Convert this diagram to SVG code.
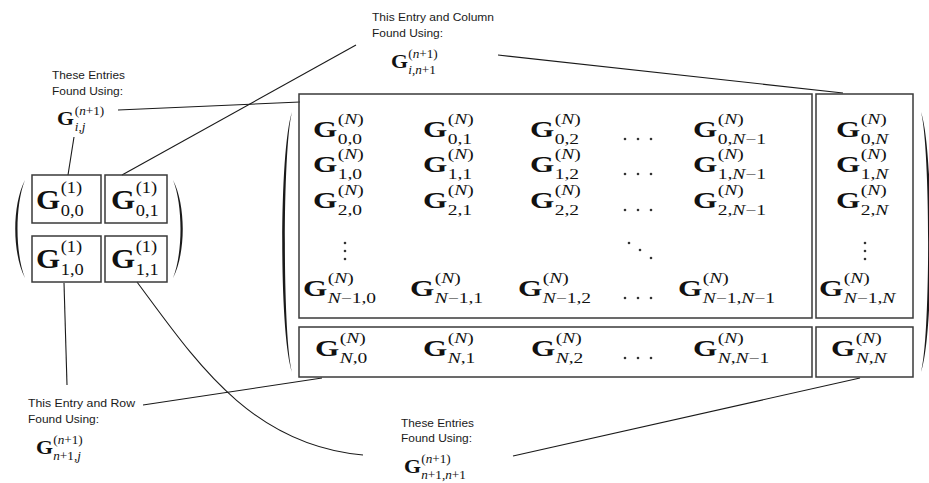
<svg xmlns="http://www.w3.org/2000/svg" width="929" height="483" viewBox="0 0 929 483">
<style>
.lbl{font-family:"Liberation Sans",Arial,sans-serif;font-size:11px;fill:#1a1a1a}
.mb{font-family:"Liberation Serif","Times New Roman",serif;font-weight:bold;fill:#111}
.ms{font-family:"Liberation Serif","Times New Roman",serif;fill:#111}
.it{font-style:italic}
.gB{font-size:24px}.sB{font-size:15px}
.gS{font-size:27px}.sS{font-size:16px}
.gL{font-size:19px}.sL{font-size:11.5px}
.box{fill:none;stroke:#3a3a3a;stroke-width:1.5}
.conn{fill:none;stroke:#1a1a1a;stroke-width:1.1}
.paren{fill:#1a1a1a}
.dot{fill:#333}
</style>
<rect width="929" height="483" fill="#fff"/>

<g id="connectors">
<line class="conn" x1="118" y1="110" x2="300" y2="102"/>
<line class="conn" x1="74" y1="137" x2="68" y2="175"/>
<line class="conn" x1="122" y1="175" x2="356" y2="45"/>
<line class="conn" x1="498" y1="55" x2="843" y2="93"/>
<line class="conn" x1="64" y1="283" x2="67" y2="385"/>
<path class="conn" d="M137,282 C195,360 250,445 363,455"/>
<line class="conn" x1="143" y1="405" x2="322" y2="378"/>
<line class="conn" x1="513" y1="456" x2="860" y2="378"/>
</g>

<g id="label-top">
<text class="lbl" x="372" y="21" textLength="122" lengthAdjust="spacingAndGlyphs">This Entry and Column</text>
<text class="lbl" x="372" y="37" textLength="71" lengthAdjust="spacingAndGlyphs">Found Using:</text>
<g transform="translate(391,68) scale(1.15,1)"><text class="mb gL">G</text><text class="ms sL" x="15" y="-10">(<tspan class="it">n</tspan>+1)</text><text class="ms sL" x="15" y="6"><tspan class="it">i</tspan>,<tspan class="it">n</tspan>+1</text></g>
</g>

<g id="label-left">
<text class="lbl" x="52" y="79" textLength="73" lengthAdjust="spacingAndGlyphs">These Entries</text>
<text class="lbl" x="52" y="95" textLength="71" lengthAdjust="spacingAndGlyphs">Found Using:</text>
<g transform="translate(57,125) scale(1.15,1)"><text class="mb gL">G</text><text class="ms sL" x="15.5" y="-10">(<tspan class="it">n</tspan>+1)</text><text class="ms sL" x="15.5" y="6"><tspan class="it">i</tspan>,<tspan class="it">j</tspan></text></g>
</g>

<g id="label-bottom-left">
<text class="lbl" x="28" y="407" textLength="107" lengthAdjust="spacingAndGlyphs">This Entry and Row</text>
<text class="lbl" x="28" y="423" textLength="71" lengthAdjust="spacingAndGlyphs">Found Using:</text>
<g transform="translate(36,454) scale(1.15,1)"><text class="mb gL">G</text><text class="ms sL" x="15" y="-10">(<tspan class="it">n</tspan>+1)</text><text class="ms sL" x="15" y="6"><tspan class="it">n</tspan>+1,<tspan class="it">j</tspan></text></g>
</g>

<g id="label-bottom-mid">
<text class="lbl" x="401" y="427" textLength="73" lengthAdjust="spacingAndGlyphs">These Entries</text>
<text class="lbl" x="401" y="442" textLength="71" lengthAdjust="spacingAndGlyphs">Found Using:</text>
<g transform="translate(404,473) scale(1.15,1)"><text class="mb gL">G</text><text class="ms sL" x="15" y="-10">(<tspan class="it">n</tspan>+1)</text><text class="ms sL" x="15" y="6"><tspan class="it">n</tspan>+1,<tspan class="it">n</tspan>+1</text></g>
</g>

<g id="small-matrix">
<path class="paren" d="M25,180 C12,205 12,253 25,278 C15,253 15,205 25,180 Z"/>
<path class="paren" d="M173,180 C186,205 186,253 173,278 C183,253 183,205 173,180 Z"/>
<g id="s00"><rect class="box" x="32" y="175" width="69" height="48"/>
<g transform="translate(36,209) scale(1.15,1)"><text class="mb gS">G</text><text class="ms sS" x="21.5" y="-16">(1)</text><text class="ms sS" x="21.5" y="7">0,0</text></g></g>
<g id="s01"><rect class="box" x="105" y="175" width="62" height="48"/>
<g transform="translate(111,209) scale(1.15,1)"><text class="mb gS">G</text><text class="ms sS" x="21.5" y="-16">(1)</text><text class="ms sS" x="21.5" y="7">0,1</text></g></g>
<g id="s10"><rect class="box" x="32" y="236" width="69" height="46"/>
<g transform="translate(36,268) scale(1.15,1)"><text class="mb gS">G</text><text class="ms sS" x="21.5" y="-16">(1)</text><text class="ms sS" x="21.5" y="7">1,0</text></g></g>
<g id="s11"><rect class="box" x="105" y="236" width="62" height="46"/>
<g transform="translate(111,268) scale(1.15,1)"><text class="mb gS">G</text><text class="ms sS" x="21.5" y="-16">(1)</text><text class="ms sS" x="21.5" y="7">1,1</text></g></g>
</g>

<g id="big-matrix">
<path class="paren" d="M292,112 C279,150 279,335 292,372 C282.5,335 282.5,150 292,112 Z"/>
<path class="paren" d="M921,112 C934,150 934,335 921,372 C930.5,335 930.5,150 921,112 Z"/>

<g id="block-main"><rect class="box" x="299" y="94" width="513" height="224"/>
<g transform="translate(313,137) scale(1.3,1)"><text class="mb gB">G</text><text class="ms sB" x="19" y="-13.5">(<tspan class="it">N</tspan>)</text><text class="ms sB" x="19" y="6.5">0,0</text></g>
<g transform="translate(423,137) scale(1.3,1)"><text class="mb gB">G</text><text class="ms sB" x="19" y="-13.5">(<tspan class="it">N</tspan>)</text><text class="ms sB" x="19" y="6.5">0,1</text></g>
<g transform="translate(530,137) scale(1.3,1)"><text class="mb gB">G</text><text class="ms sB" x="19" y="-13.5">(<tspan class="it">N</tspan>)</text><text class="ms sB" x="19" y="6.5">0,2</text></g>
<g transform="translate(693,137) scale(1.3,1)"><text class="mb gB">G</text><text class="ms sB" x="19" y="-13.5">(<tspan class="it">N</tspan>)</text><text class="ms sB" x="19" y="6.5">0,<tspan class="it">N</tspan>−1</text></g>

<g transform="translate(313,172) scale(1.3,1)"><text class="mb gB">G</text><text class="ms sB" x="19" y="-13.5">(<tspan class="it">N</tspan>)</text><text class="ms sB" x="19" y="6.5">1,0</text></g>
<g transform="translate(423,172) scale(1.3,1)"><text class="mb gB">G</text><text class="ms sB" x="19" y="-13.5">(<tspan class="it">N</tspan>)</text><text class="ms sB" x="19" y="6.5">1,1</text></g>
<g transform="translate(530,172) scale(1.3,1)"><text class="mb gB">G</text><text class="ms sB" x="19" y="-13.5">(<tspan class="it">N</tspan>)</text><text class="ms sB" x="19" y="6.5">1,2</text></g>
<g transform="translate(693,172) scale(1.3,1)"><text class="mb gB">G</text><text class="ms sB" x="19" y="-13.5">(<tspan class="it">N</tspan>)</text><text class="ms sB" x="19" y="6.5">1,<tspan class="it">N</tspan>−1</text></g>

<g transform="translate(313,208) scale(1.3,1)"><text class="mb gB">G</text><text class="ms sB" x="19" y="-13.5">(<tspan class="it">N</tspan>)</text><text class="ms sB" x="19" y="6.5">2,0</text></g>
<g transform="translate(423,208) scale(1.3,1)"><text class="mb gB">G</text><text class="ms sB" x="19" y="-13.5">(<tspan class="it">N</tspan>)</text><text class="ms sB" x="19" y="6.5">2,1</text></g>
<g transform="translate(530,208) scale(1.3,1)"><text class="mb gB">G</text><text class="ms sB" x="19" y="-13.5">(<tspan class="it">N</tspan>)</text><text class="ms sB" x="19" y="6.5">2,2</text></g>
<g transform="translate(693,208) scale(1.3,1)"><text class="mb gB">G</text><text class="ms sB" x="19" y="-13.5">(<tspan class="it">N</tspan>)</text><text class="ms sB" x="19" y="6.5">2,<tspan class="it">N</tspan>−1</text></g>

<g transform="translate(303,296) scale(1.3,1)"><text class="mb gB">G</text><text class="ms sB" x="19" y="-13.5">(<tspan class="it">N</tspan>)</text><text class="ms sB" x="19" y="6.5"><tspan class="it">N</tspan>−1,0</text></g>
<g transform="translate(410,296) scale(1.3,1)"><text class="mb gB">G</text><text class="ms sB" x="19" y="-13.5">(<tspan class="it">N</tspan>)</text><text class="ms sB" x="19" y="6.5"><tspan class="it">N</tspan>−1,1</text></g>
<g transform="translate(518,296) scale(1.3,1)"><text class="mb gB">G</text><text class="ms sB" x="19" y="-13.5">(<tspan class="it">N</tspan>)</text><text class="ms sB" x="19" y="6.5"><tspan class="it">N</tspan>−1,2</text></g>
<g transform="translate(678,296) scale(1.3,1)"><text class="mb gB">G</text><text class="ms sB" x="19" y="-13.5">(<tspan class="it">N</tspan>)</text><text class="ms sB" x="19" y="6.5"><tspan class="it">N</tspan>−1,<tspan class="it">N</tspan>−1</text></g>

<g class="dot">
<circle cx="625" cy="139" r="1.3"/><circle cx="638" cy="139" r="1.3"/><circle cx="651" cy="139" r="1.3"/>
<circle cx="625" cy="174" r="1.3"/><circle cx="638" cy="174" r="1.3"/><circle cx="651" cy="174" r="1.3"/>
<circle cx="625" cy="210" r="1.3"/><circle cx="638" cy="210" r="1.3"/><circle cx="651" cy="210" r="1.3"/>
<circle cx="625" cy="298" r="1.3"/><circle cx="638" cy="298" r="1.3"/><circle cx="651" cy="298" r="1.3"/>
<circle cx="345" cy="243" r="1.3"/><circle cx="345" cy="251" r="1.3"/><circle cx="345" cy="259" r="1.3"/>
<circle cx="629" cy="243" r="1.3"/><circle cx="640" cy="250" r="1.3"/><circle cx="651" cy="258" r="1.3"/>
</g>
</g>

<g id="block-column"><rect class="box" x="816" y="94" width="97" height="224"/>
<g transform="translate(836,137) scale(1.3,1)"><text class="mb gB">G</text><text class="ms sB" x="19" y="-13.5">(<tspan class="it">N</tspan>)</text><text class="ms sB" x="19" y="6.5">0,<tspan class="it">N</tspan></text></g>
<g transform="translate(836,172) scale(1.3,1)"><text class="mb gB">G</text><text class="ms sB" x="19" y="-13.5">(<tspan class="it">N</tspan>)</text><text class="ms sB" x="19" y="6.5">1,<tspan class="it">N</tspan></text></g>
<g transform="translate(836,208) scale(1.3,1)"><text class="mb gB">G</text><text class="ms sB" x="19" y="-13.5">(<tspan class="it">N</tspan>)</text><text class="ms sB" x="19" y="6.5">2,<tspan class="it">N</tspan></text></g>
<g transform="translate(819,296) scale(1.3,1)"><text class="mb gB">G</text><text class="ms sB" x="19" y="-13.5">(<tspan class="it">N</tspan>)</text><text class="ms sB" x="19" y="6.5"><tspan class="it">N</tspan>−1,<tspan class="it">N</tspan></text></g>
<g class="dot"><circle cx="865" cy="243" r="1.3"/><circle cx="865" cy="251" r="1.3"/><circle cx="865" cy="259" r="1.3"/></g>
</g>

<g id="block-row"><rect class="box" x="299" y="327" width="513" height="50"/>
<g transform="translate(315,356) scale(1.3,1)"><text class="mb gB">G</text><text class="ms sB" x="19" y="-13.5">(<tspan class="it">N</tspan>)</text><text class="ms sB" x="19" y="6.5"><tspan class="it">N</tspan>,0</text></g>
<g transform="translate(423,356) scale(1.3,1)"><text class="mb gB">G</text><text class="ms sB" x="19" y="-13.5">(<tspan class="it">N</tspan>)</text><text class="ms sB" x="19" y="6.5"><tspan class="it">N</tspan>,1</text></g>
<g transform="translate(531,356) scale(1.3,1)"><text class="mb gB">G</text><text class="ms sB" x="19" y="-13.5">(<tspan class="it">N</tspan>)</text><text class="ms sB" x="19" y="6.5"><tspan class="it">N</tspan>,2</text></g>
<g transform="translate(693,356) scale(1.3,1)"><text class="mb gB">G</text><text class="ms sB" x="19" y="-13.5">(<tspan class="it">N</tspan>)</text><text class="ms sB" x="19" y="6.5"><tspan class="it">N</tspan>,<tspan class="it">N</tspan>−1</text></g>
<g class="dot"><circle cx="625" cy="358" r="1.3"/><circle cx="638" cy="358" r="1.3"/><circle cx="651" cy="358" r="1.3"/></g>
</g>

<g id="block-corner"><rect class="box" x="816" y="327" width="97" height="50"/>
<g transform="translate(831,356) scale(1.3,1)"><text class="mb gB">G</text><text class="ms sB" x="19" y="-13.5">(<tspan class="it">N</tspan>)</text><text class="ms sB" x="19" y="6.5"><tspan class="it">N</tspan>,<tspan class="it">N</tspan></text></g>
</g>
</g>
</svg>
